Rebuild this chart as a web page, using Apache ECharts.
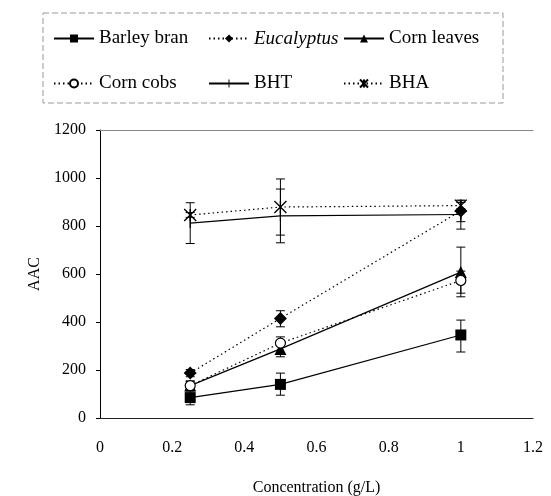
<!DOCTYPE html>
<html>
<head>
<meta charset="utf-8">
<script src="https://cdn.jsdelivr.net/npm/echarts@6/dist/echarts.min.js"></script>
<style>
  html, body { margin: 0; padding: 0; background: #fff; }
  #chart { width: 551px; height: 496px; }
</style>
</head>
<body>
<div id="chart"></div>
<script>
  // concentrations (g/L)
  var conc = [0.25, 0.5, 1];

  // mean AAC per extract
  var barleyBran = [85, 140, 346];
  var eucalyptus = [187, 415, 863];
  var cornLeaves = [135, 288, 608];
  var cornCobs = [135, 312, 573];
  var bht = [812, 842, 848];
  var bha = [846, 879, 885];

  // error bars [low, high]
  var barleyBranErr = [[55, 112], [95, 187], [275, 408]];
  var eucalyptusErr = [[172, 202], [380, 447], [818, 908]];
  var cornLeavesErr = [[115, 155], [255, 322], [505, 712]];
  var cornCobsErr = [[118, 152], [268, 338], [520, 612]];
  var bhtErr = [[727, 897], [730, 954], [787, 905]];
  var bhaErr = [[836, 856], [762, 996], [872, 898]];

  var names = ['Barley bran', 'Eucalyptus', 'Corn leaves', 'Corn cobs', 'BHT', 'BHA'];

  var serif = '"Liberation Serif", "DejaVu Serif", serif';

  function pairs(ys) {
    return conc.map(function (x, i) { return [x, ys[i]]; });
  }

  function errData(errs) {
    return conc.map(function (x, i) { return [x, errs[i][0], errs[i][1]]; });
  }

  function errSeries(errs) {
    return {
      type: 'custom',
      silent: true,
      z: 1,
      data: errData(errs),
      renderItem: function (params, api) {
        var lo = api.coord([api.value(0), api.value(1)]);
        var hi = api.coord([api.value(0), api.value(2)]);
        var w = 4.5;
        var st = { stroke: '#000', lineWidth: 1 };
        return {
          type: 'group',
          children: [
            { type: 'line', shape: { x1: lo[0], y1: lo[1], x2: hi[0], y2: hi[1] }, style: st },
            { type: 'line', shape: { x1: lo[0] - w, y1: lo[1], x2: lo[0] + w, y2: lo[1] }, style: st },
            { type: 'line', shape: { x1: hi[0] - w, y1: hi[1], x2: hi[0] + w, y2: hi[1] }, style: st }
          ]
        };
      }
    };
  }

  function lineSeries(name, ys, symbol, size, dotted, hollow) {
    return {
      name: name,
      type: 'line',
      data: pairs(ys),
      symbol: symbol,
      symbolSize: size,
      z: 3,
      lineStyle: { color: '#000', width: 1.2, type: dotted ? [1.5, 3] : 'solid' },
      itemStyle: {
        color: hollow ? '#fff' : '#000',
        borderColor: '#000',
        borderWidth: hollow ? 1.2 : 0
      }
    };
  }

  var starPath = 'path://M0,0L10,10M10,0L0,10M5,0L5,10';
  // thin vertical tick; the two tiny end squares keep the box square
  var tickPath = 'path://M4.4,0h1.2v10h-1.2z M0,4.99h0.02v0.02h-0.02z M9.98,4.99h0.02v0.02h-0.02z';

  // one legend per entry so the 3x2 layout matches
  var legendPos = [[53, 29], [208, 29], [343, 29], [53, 74], [208, 74], [343, 74]];
  var legends = names.map(function (n, i) {
    return {
      left: legendPos[i][0],
      top: legendPos[i][1],
      padding: 0,
      itemWidth: 40,
      itemHeight: 10,
      textStyle: {
        fontFamily: serif, fontSize: 19, color: '#000',
        rich: { i: { fontStyle: 'italic', fontFamily: serif, fontSize: 19, color: '#000' } }
      },
      formatter: function (name) {
        return name === 'Eucalyptus' ? '{i|Eucalyptus}' : name;
      },
      data: [n]
    };
  });

  var chart = echarts.init(document.getElementById('chart'));

  chart.setOption({
    animation: false,
    textStyle: { fontFamily: serif },
    graphic: [{
      type: 'rect',
      shape: { x: 43, y: 13, width: 460, height: 90 },
      style: { fill: 'none', stroke: '#999', lineWidth: 1, lineDash: [6, 3] },
      silent: true
    }],
    legend: legends,
    grid: {
      left: 100, right: 18, top: 130, bottom: 78,
      outerBoundsMode: 'none'
    },
    xAxis: [{
      type: 'value',
      min: 0, max: 1.2, interval: 0.2,
      name: 'Concentration (g/L)',
      nameLocation: 'middle',
      nameGap: 62,
      nameTextStyle: { fontFamily: serif, fontSize: 16, color: '#000' },
      axisLine: { lineStyle: { color: '#222' } },
      axisTick: { show: false },
      axisLabel: { fontFamily: serif, fontSize: 16, color: '#000', margin: 22 },
      splitLine: { show: false }
    }, {
      // top frame line of the plot area
      type: 'value',
      position: 'top',
      min: 0, max: 1.2,
      axisLine: { show: true, lineStyle: { color: '#888' } },
      axisTick: { show: false },
      axisLabel: { show: false },
      splitLine: { show: false }
    }],
    yAxis: {
      type: 'value',
      min: 0, max: 1200, interval: 200,
      name: 'AAC',
      nameLocation: 'middle',
      nameGap: 43,
      nameTextStyle: { fontFamily: serif, fontSize: 16, color: '#000' },
      axisLine: { show: true, lineStyle: { color: '#000' } },
      axisTick: { show: true, length: 4, lineStyle: { color: '#000' } },
      axisLabel: {
        fontFamily: serif, fontSize: 16, color: '#000', margin: 14,
        formatter: function (v) { return String(v); }
      },
      splitLine: { show: false }
    },
    series: [
      errSeries(barleyBranErr),
      errSeries(eucalyptusErr),
      errSeries(cornLeavesErr),
      errSeries(cornCobsErr),
      errSeries(bhtErr),
      errSeries(bhaErr),
      lineSeries('Barley bran', barleyBran, 'rect', 11, false, false),
      lineSeries('Eucalyptus', eucalyptus, 'diamond', 13, true, false),
      lineSeries('Corn leaves', cornLeaves, 'triangle', 12, false, false),
      lineSeries('Corn cobs', cornCobs, 'circle', 10, true, true),
      lineSeries('BHT', bht, tickPath, 10, false, false),
      (function () {
        var s = lineSeries('BHA', bha, starPath, 12, true, false);
        s.itemStyle = { color: 'none', borderColor: '#000', borderWidth: 1.3 };
        return s;
      })()
    ]
  });
</script>
</body>
</html>
